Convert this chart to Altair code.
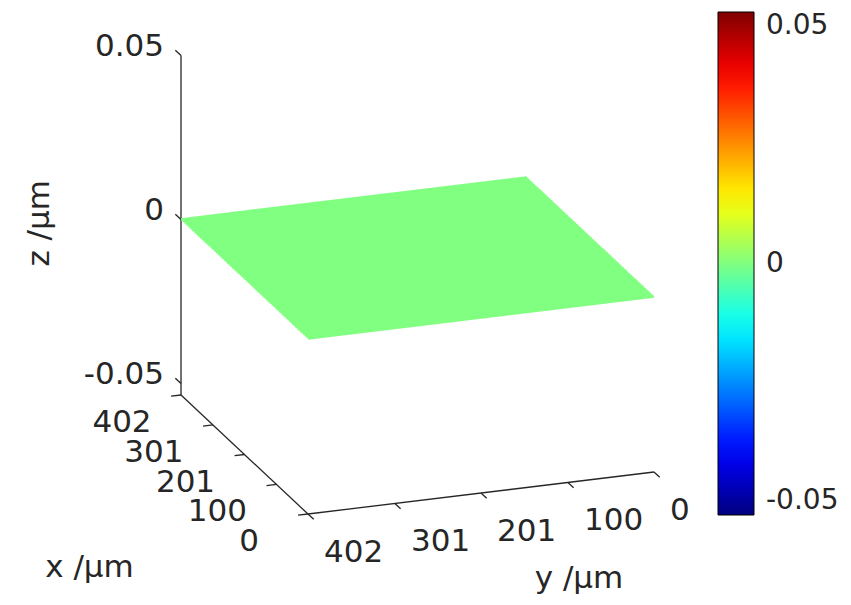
import altair as alt
import numpy as np
import pandas as pd

# ---------------- values ----------------
x_ticks = [0, 100, 201, 301, 402]
x_tick_labels = ["0", "100", "201", "301", "402"]
y_ticks = [0, 100, 201, 301, 402]
y_tick_labels = ["0", "100", "201", "301", "402"]
z_ticks = [-0.05, 0.0, 0.05]
z_tick_labels = ["-0.05", "0", "0.05"]
x_range = [0, 402]
y_range = [0, 402]
z_range = [-0.0535, 0.05]
color_range = [-0.05, 0.05]
color_ticks = [-0.05, 0.0, 0.05]
surface_level = 0.0          # the measured surface is flat at z = 0
grid_steps = 80

# MATLAB "jet" colormap anchors
jet_fraction = [0.0, 0.125, 0.375, 0.625, 0.875, 1.0]
jet_colors = ["#000080", "#0000ff", "#00ffff", "#ffff00", "#ff0000", "#800000"]

# ---------------- 3-D view (camera) ----------------
W, H = 835, 589
ORIGIN = (646.0, 464.0)      # screen position of (x=0, y=0, z=zmin)
EX = (-0.3159, -0.2960)      # screen step per unit of x
EY = (-0.8607, 0.1045)       # screen step per unit of y
EZ = 3280.0                  # screen step per unit of z (upwards)
TXT = "#262626"
FONT = "DejaVu Sans"
FS = 31


def project(x, y, z):
    u = ORIGIN[0] + x * EX[0] + y * EY[0]
    v = ORIGIN[1] + x * EX[1] + y * EY[1] - (z - z_range[0]) * EZ
    return u, v


# surface: one thick line along y for every x grid value
surf_rows = []
for i, xv in enumerate(np.linspace(x_range[0], x_range[1], grid_steps + 1)):
    for k, yv in enumerate(y_range):
        u, v = project(xv, yv, surface_level)
        surf_rows.append(dict(line=i, ord=k, u=u, v=v, z=surface_level))
surf_df = pd.DataFrame(surf_rows)

zmin, zmax = z_range
xmax, ymax = x_range[1], y_range[1]


def seg(p, q):
    u, v = project(*p)
    u2, v2 = project(*q)
    return dict(u=u, v=v, u2=u2, v2=v2)


axis_rows = [
    seg((xmax, ymax, zmin), (xmax, ymax, zmax)),   # z axis
    seg((0, ymax, zmin), (xmax, ymax, zmin)),      # x axis
    seg((0, 0, zmin), (0, ymax, zmin)),            # y axis
]
tick_x_len, tick_y_len = 18.0, 11.5
tick_rows = []
for zt in z_ticks:
    tick_rows.append(seg((xmax, ymax, zt), (xmax + tick_x_len, ymax, zt)))
for xt in x_ticks:
    tick_rows.append(seg((xt, ymax, zmin), (xt, ymax + tick_y_len, zmin)))
for yt in y_ticks:
    tick_rows.append(seg((0, yt, zmin), (-tick_x_len, yt, zmin)))
axis_df = pd.DataFrame(axis_rows + tick_rows)


def label_df(points, labels):
    rows = []
    for p, t in zip(points, labels):
        u, v = project(*p)
        rows.append(dict(u=u, v=v, t=t))
    return pd.DataFrame(rows)


zlab_df = label_df([(xmax, ymax, z) for z in z_ticks], z_tick_labels)
xlab_df = label_df([(x, ymax, zmin) for x in x_ticks], x_tick_labels)
ylab_df = label_df([(0, y, zmin) for y in y_ticks], y_tick_labels)
xt_df = label_df([(xmax / 2, ymax, zmin)], ["x /\u03bcm"])
yt_df = label_df([(0, ymax / 2, zmin)], ["y /\u03bcm"])
zt_df = label_df([(xmax, ymax, (zmin + zmax) / 2)], ["z /\u03bcm"])

X = alt.X("u:Q", scale=alt.Scale(domain=[0, W], nice=False, zero=False), axis=None)
Y = alt.Y("v:Q", scale=alt.Scale(domain=[0, H], nice=False, zero=False, reverse=True), axis=None)

c0, c1 = color_range
color_scale = alt.Scale(
    domain=[c0 + f * (c1 - c0) for f in jet_fraction],
    range=jet_colors,
    interpolate="rgb",
)

surface = alt.Chart(surf_df).mark_line(strokeWidth=2.6, strokeCap="butt").encode(
    x=X,
    y=Y,
    detail="line:N",
    order="ord:Q",
    color=alt.Color(
        "z:Q",
        scale=color_scale,
        legend=alt.Legend(
            orient="none",
            legendX=710,
            legendY=4,
            direction="vertical",
            gradientLength=503,
            gradientThickness=36,
            gradientStrokeColor="#000000",
            gradientStrokeWidth=1,
            values=color_ticks,
            labelExpr="replace(format(datum.value, '~g'), '\u2212', '-')",
            labelFont=FONT,
            labelFontSize=28,
            labelColor=TXT,
            labelOffset=12,
            padding=0,
            title=None,
        ),
    ),
)

axes = alt.Chart(axis_df).mark_rule(color=TXT, strokeWidth=1.3).encode(
    x=X, y=Y, x2="u2:Q", y2="v2:Q"
)


def text_layer(df, align, dx, dy, angle=0):
    return alt.Chart(df).mark_text(
        align=align, baseline="middle", dx=dx, dy=dy, angle=angle,
        font=FONT, fontSize=FS, color=TXT,
    ).encode(x=X, y=Y, text="t:N")


zlab = text_layer(zlab_df, "right", -17, -9)
xlab = text_layer(xlab_df, "center", -59, 28)
ylab = text_layer(ylab_df, "left", 16, 39)
xtitle = text_layer(xt_df, "center", -155, 113)
ytitle = text_layer(yt_df, "center", 98, 86)
ztitle = text_layer(zt_df, "center", 2, -141, angle=270)

chart = alt.layer(
    axes, surface, zlab, xlab, ylab, xtitle, ytitle, ztitle
).properties(
    width=W,
    height=H,
    padding=0,
    autosize=alt.AutoSizeParams(type="none"),
    background="white",
).configure_view(strokeWidth=0)

chart.save("out.html", embed_options={"renderer": "svg", "actions": False})
